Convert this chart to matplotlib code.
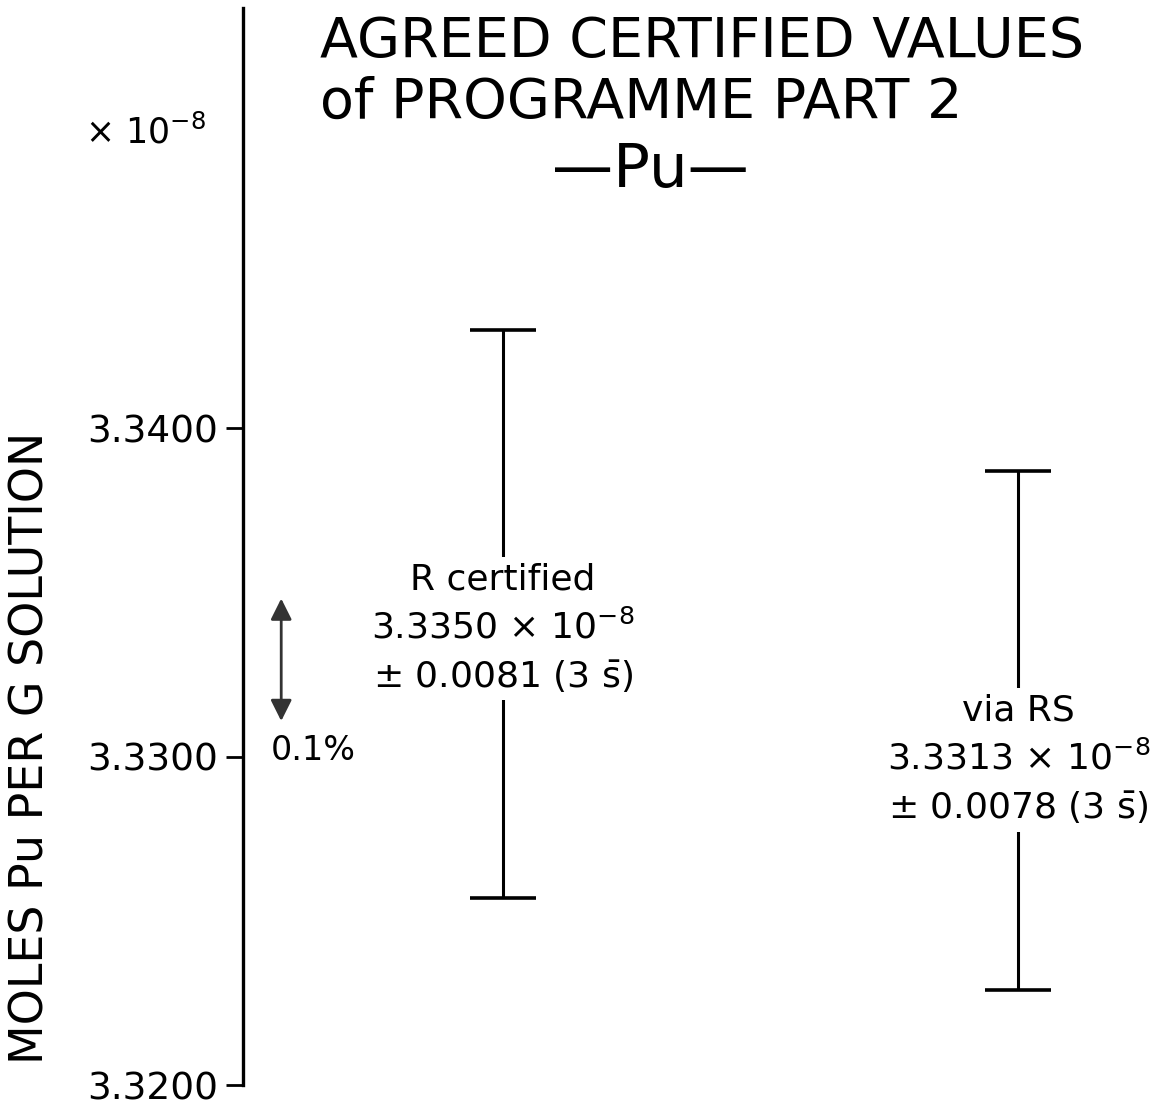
import numpy as np
import matplotlib
matplotlib.use('Agg')
import matplotlib.pyplot as plt

plt.rcParams['font.family'] = ['DejaVu Sans']
plt.rcParams['mathtext.fontset'] = 'dejavusans'

# values (units of 1e-8 mol/g)
labels = ['R certified', 'via RS']
x_pos = [0.279, 0.832]
bar_high = [3.3430, 3.3387]
bar_low = [3.3257, 3.3229]
text_center = [3.3339, 3.3299]
values = ['3.3350', '3.3313']
uncert = ['0.0081', '0.0078']
y_ticks = [3.3200, 3.3300, 3.3400]
y_lim = (3.3200, 3.3528)
arrow_top = 3.3349
arrow_bottom = 3.3310

fig = plt.figure(figsize=(11.75, 11.05), dpi=100)
ax = fig.add_axes([243 / 1175, 1 - 1085 / 1105, 1 - 243 / 1175, (1085 - 8) / 1105])
ax.set_xlim(0, 1)
ax.set_ylim(*y_lim)

for s in ['top', 'right', 'bottom']:
    ax.spines[s].set_visible(False)
ax.spines['left'].set_linewidth(2.4)
ax.set_xticks([])
ax.set_yticks(y_ticks)
ax.set_yticklabels([f'{t:.4f}' for t in y_ticks], fontsize=27)
ax.tick_params(axis='y', direction='out', length=12, width=2, pad=6)
ax.set_ylabel('MOLES Pu PER G SOLUTION', fontsize=33)
ax.yaxis.set_label_coords(-0.203, 0.313)

# error bars
for i in range(len(labels)):
    mid = (bar_high[i] + bar_low[i]) / 2
    ax.errorbar(x_pos[i], mid, yerr=[[mid - bar_low[i]], [bar_high[i] - mid]],
                fmt='none', ecolor='black', elinewidth=2.2, capsize=24, capthick=2.6)
    txt = (labels[i] + '\n' + values[i] + r' × 10$^{-8}$' + '\n'
           + '± ' + uncert[i] + r' (3 $\bar{\mathsf{s}}$)')
    ax.text(x_pos[i], text_center[i], txt, ha='center', va='center', fontsize=26,
            linespacing=1.45,
            bbox=dict(facecolor='white', edgecolor='none', pad=4))

# 0.1 % arrow
ax.annotate('', xy=(0.041, arrow_top), xytext=(0.041, arrow_bottom),
            arrowprops=dict(arrowstyle='<|-|>', color='#333333', lw=2,
                            mutation_scale=32))
ax.text(0.03, 3.3302, '0.1%', fontsize=24, ha='left', va='center')

# titles
fig.text(320 / 1175, 1 - 42 / 1105, 'AGREED CERTIFIED VALUES', fontsize=40,
         ha='left', va='center')
fig.text(320 / 1175, 1 - 103 / 1105, 'of PROGRAMME PART 2', fontsize=40,
         ha='left', va='center')
fig.text(650 / 1175, 1 - 170 / 1105, '—Pu—', fontsize=44, ha='center', va='center')
fig.text(85 / 1175, 1 - 132 / 1105, r'× 10$^{-8}$', fontsize=25, ha='left', va='center')

fig.savefig('out.png', dpi=100, facecolor='white')
